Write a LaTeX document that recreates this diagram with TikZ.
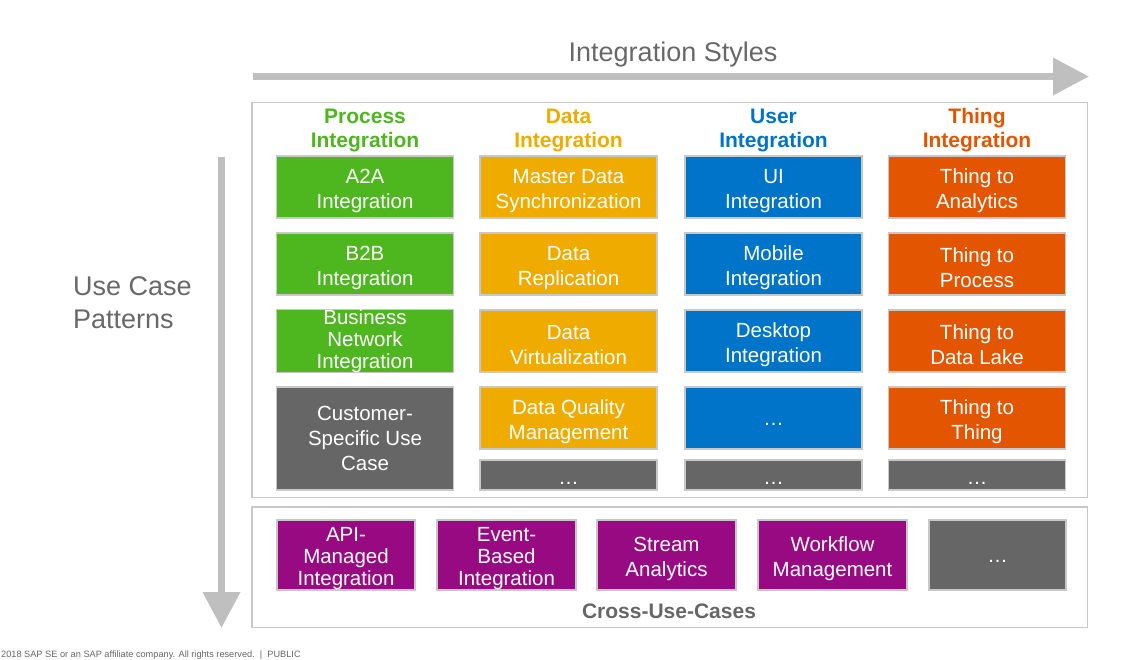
\documentclass[tikz,border=0pt]{standalone}
\usepackage{fontspec}
\setmainfont{Liberation Sans}
\usetikzlibrary{arrows.meta}
\definecolor{pgreen}{RGB}{78,182,30}
\definecolor{pgold}{RGB}{240,171,0}
\definecolor{pblue}{RGB}{0,116,200}
\definecolor{porange}{RGB}{227,85,0}
\definecolor{ppurple}{RGB}{151,10,130}
\definecolor{pdgray}{RGB}{102,102,102}
\definecolor{pborder}{RGB}{200,200,200}
\definecolor{parrow}{RGB}{191,191,191}
\definecolor{ptext}{RGB}{104,104,104}
\newcommand{\stt}{\rule{0pt}{22pt}}
\newcommand{\dotsfill}{\stt\raisebox{4pt}{…}}
\tikzset{
  cell/.style={draw=pborder, line width=1.6pt, text=white, align=center, inner sep=0pt,
    minimum width=177pt, minimum height=62pt, font=\fontsize{20.5}{25}\selectfont},
  tight/.style={font=\fontsize{20.5}{22}\selectfont},
  crosscell/.style={cell, minimum height=70pt, fill=ppurple},
  header/.style={align=center, inner sep=0pt, font=\bfseries\fontsize{21}{24}\selectfont},
  frame/.style={draw=pborder, line width=1.5pt},
  axisarrow/.style={draw=parrow, line width=7pt, -{Triangle[length=36pt,width=36pt]}},
  biglabel/.style={text=ptext, inner sep=0pt, font=\fontsize{27}{33}\selectfont},
}
\begin{document}
\begin{tikzpicture}[x=1pt,y=-1pt]
\useasboundingbox (0,0) rectangle (1147,659);
% axes
\node[biglabel] (styles) at (673,54.5) {Integration Styles};
\coordinate (hs) at (253,76.5);
\coordinate (he) at (1089,76.5);
\draw[axisarrow] (hs) -- (he);
\coordinate (vs) at (221.5,157);
\coordinate (ve) at (221.5,628);
\draw[axisarrow] (vs) -- (ve);
\node[biglabel, anchor=west, align=left] (patterns) at (73,302.5) {Use Case\\Patterns};
% frames
\draw[frame] (252,102.5) rectangle (1087.5,497.5);
\draw[frame] (252,507) rectangle (1087.5,627.5);
% headers
\node[header, text=pgreen] (h1) at (365,130) {Process\\Integration};
\node[header, text=pgold] (h2) at (568.5,130) {Data\\Integration};
\node[header, text=pblue] (h3) at (773.5,130) {User\\Integration};
\node[header, text=porange] (h4) at (977,130) {Thing\\Integration};
% column 1
\node[cell, fill=pgreen] (a2a) at (365,187) {\stt A2A\\Integration};
\node[cell, fill=pgreen] (b2b) at (365,264) {\stt B2B\\Integration};
\node[cell, tight, fill=pgreen] (bni) at (365,341) {Business\\Network\\Integration};
\node[cell, fill=pdgray, minimum height=103pt] (cust) at (365,438.5) {Customer-\\Specific Use\\Case};
% column 2
\node[cell, fill=pgold] (mds) at (568.5,187) {\stt Master Data\\Synchronization};
\node[cell, fill=pgold] (drep) at (568.5,264) {\stt Data\\Replication};
\node[cell, fill=pgold] (dvirt) at (568.5,341) {\stt Data\\Virtualization};
\node[cell, fill=pgold] (dqm) at (568.5,418) {\stt Data Quality\\Management};
\node[cell, fill=pdgray, minimum height=30pt] (d5) at (568.5,475) {\stt\raisebox{2pt}{…}};
% column 3
\node[cell, fill=pblue] (ui) at (773.5,187) {\stt UI\\Integration};
\node[cell, fill=pblue] (mob) at (773.5,264) {\stt Mobile\\Integration};
\node[cell, fill=pblue] (desk) at (773.5,341) {\stt Desktop\\Integration};
\node[cell, fill=pblue] (u4) at (773.5,418) {\dotsfill};
\node[cell, fill=pdgray, minimum height=30pt] (u5) at (773.5,475) {\stt\raisebox{2pt}{…}};
% column 4
\node[cell, fill=porange] (t2a) at (977,187) {\stt Thing to\\Analytics};
\node[cell, fill=porange] (t2p) at (977,264) {\stt Thing to\\Process};
\node[cell, fill=porange] (t2d) at (977,341) {\stt Thing to\\Data Lake};
\node[cell, fill=porange] (t2t) at (977,418) {\stt Thing to\\Thing};
\node[cell, fill=pdgray, minimum height=30pt] (t5) at (977,475) {\stt\raisebox{2pt}{…}};
% cross use cases
\node[crosscell, tight, minimum width=138pt] (api) at (346,555) {\stt API-\\Managed\\Integration};
\node[crosscell, tight, minimum width=139pt] (event) at (506.5,555) {\stt Event-\\Based\\Integration};
\node[crosscell, minimum width=139pt] (stream) at (666.5,555) {\stt Stream\\Analytics};
\node[crosscell, minimum width=149pt] (wf) at (832.5,555) {\stt Workflow\\Management};
\node[crosscell, fill=pdgray, minimum width=137pt] (c5) at (997.5,555) {\dotsfill};
\node[header, text=pdgray] (cross) at (669,611) {Cross-Use-Cases};
% footer
\node[anchor=base west, inner sep=0pt, text=pdgray, font=\fontsize{9.2}{11}\selectfont] (footer) at (1,657) {2018 SAP SE or an SAP affiliate company. All rights reserved.\ \ |\ \ PUBLIC};
\end{tikzpicture}
\end{document}
